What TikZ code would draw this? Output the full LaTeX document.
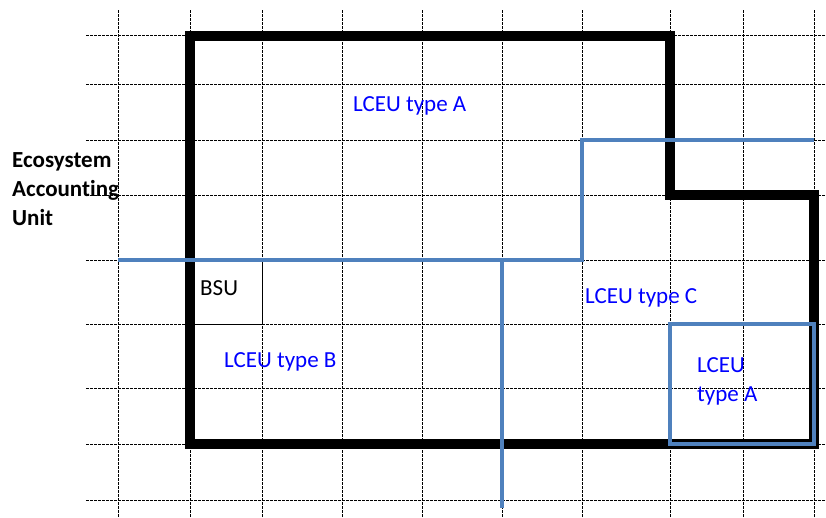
\documentclass[tikz,border=0pt]{standalone}
\usepackage{fontspec}
\setmainfont{Carlito}[Ligatures=NoCommon]
\definecolor{lceublue}{HTML}{4F81BD}
\definecolor{textblue}{HTML}{0000FF}
\begin{document}
\begin{tikzpicture}[
        x=1pt, y=-1pt,
        gridline/.style={draw, dash pattern=on 2.5pt off 1.5pt, line width=0.8pt},
        eauline/.style={draw, line width=10pt, line join=miter},
        lceuline/.style={draw=lceublue, line width=3.2pt},
        bsubox/.style={draw, line width=1pt},
        lceutext/.style={text=textblue, anchor=base west, inner sep=0pt, font=\fontsize{23}{29}\selectfont},
        plaintext/.style={anchor=base west, inner sep=0pt, font=\fontsize{23}{29}\selectfont, align=left},
    ]
    \useasboundingbox (0,0) rectangle (826,517);
    \foreach \gx in {118,190,262,342,422,502,582,670,743,814}
        \draw[gridline] (\gx,10) -- (\gx,517);
    \foreach \gy in {35,84,140,195,260,324,388,444,500}
        \draw[gridline] (86,\gy) -- (826,\gy);

    \draw[eauline] (190,36) -- (670,36) -- (670,195) -- (814,195) -- (814,444) -- (190,444) -- cycle;
    \draw[bsubox] (190,260) rectangle (262,324);
    \draw[lceuline] (118,260) -- (582,260) -- (582,140) -- (814,140);
    \draw[lceuline] (502,260) -- (502,508);
    \draw[lceuline] (670,324) rectangle (814,444);

    \node[plaintext, font=\bfseries\fontsize{23}{29}\selectfont] (eau) at (12,225) {Ecosystem\\Accounting\\Unit};
    \node[plaintext] (bsu) at (200,295) {BSU};
    \node[lceutext] (typeA) at (353,111) {LCEU type A};
    \node[lceutext] (typeC) at (585,303) {LCEU type C};
    \node[lceutext] (typeB) at (224,367) {LCEU type B};
    \node[lceutext, align=left] (typeAsmall) at (697,401) {LCEU\\type A};
\end{tikzpicture}
\end{document}
